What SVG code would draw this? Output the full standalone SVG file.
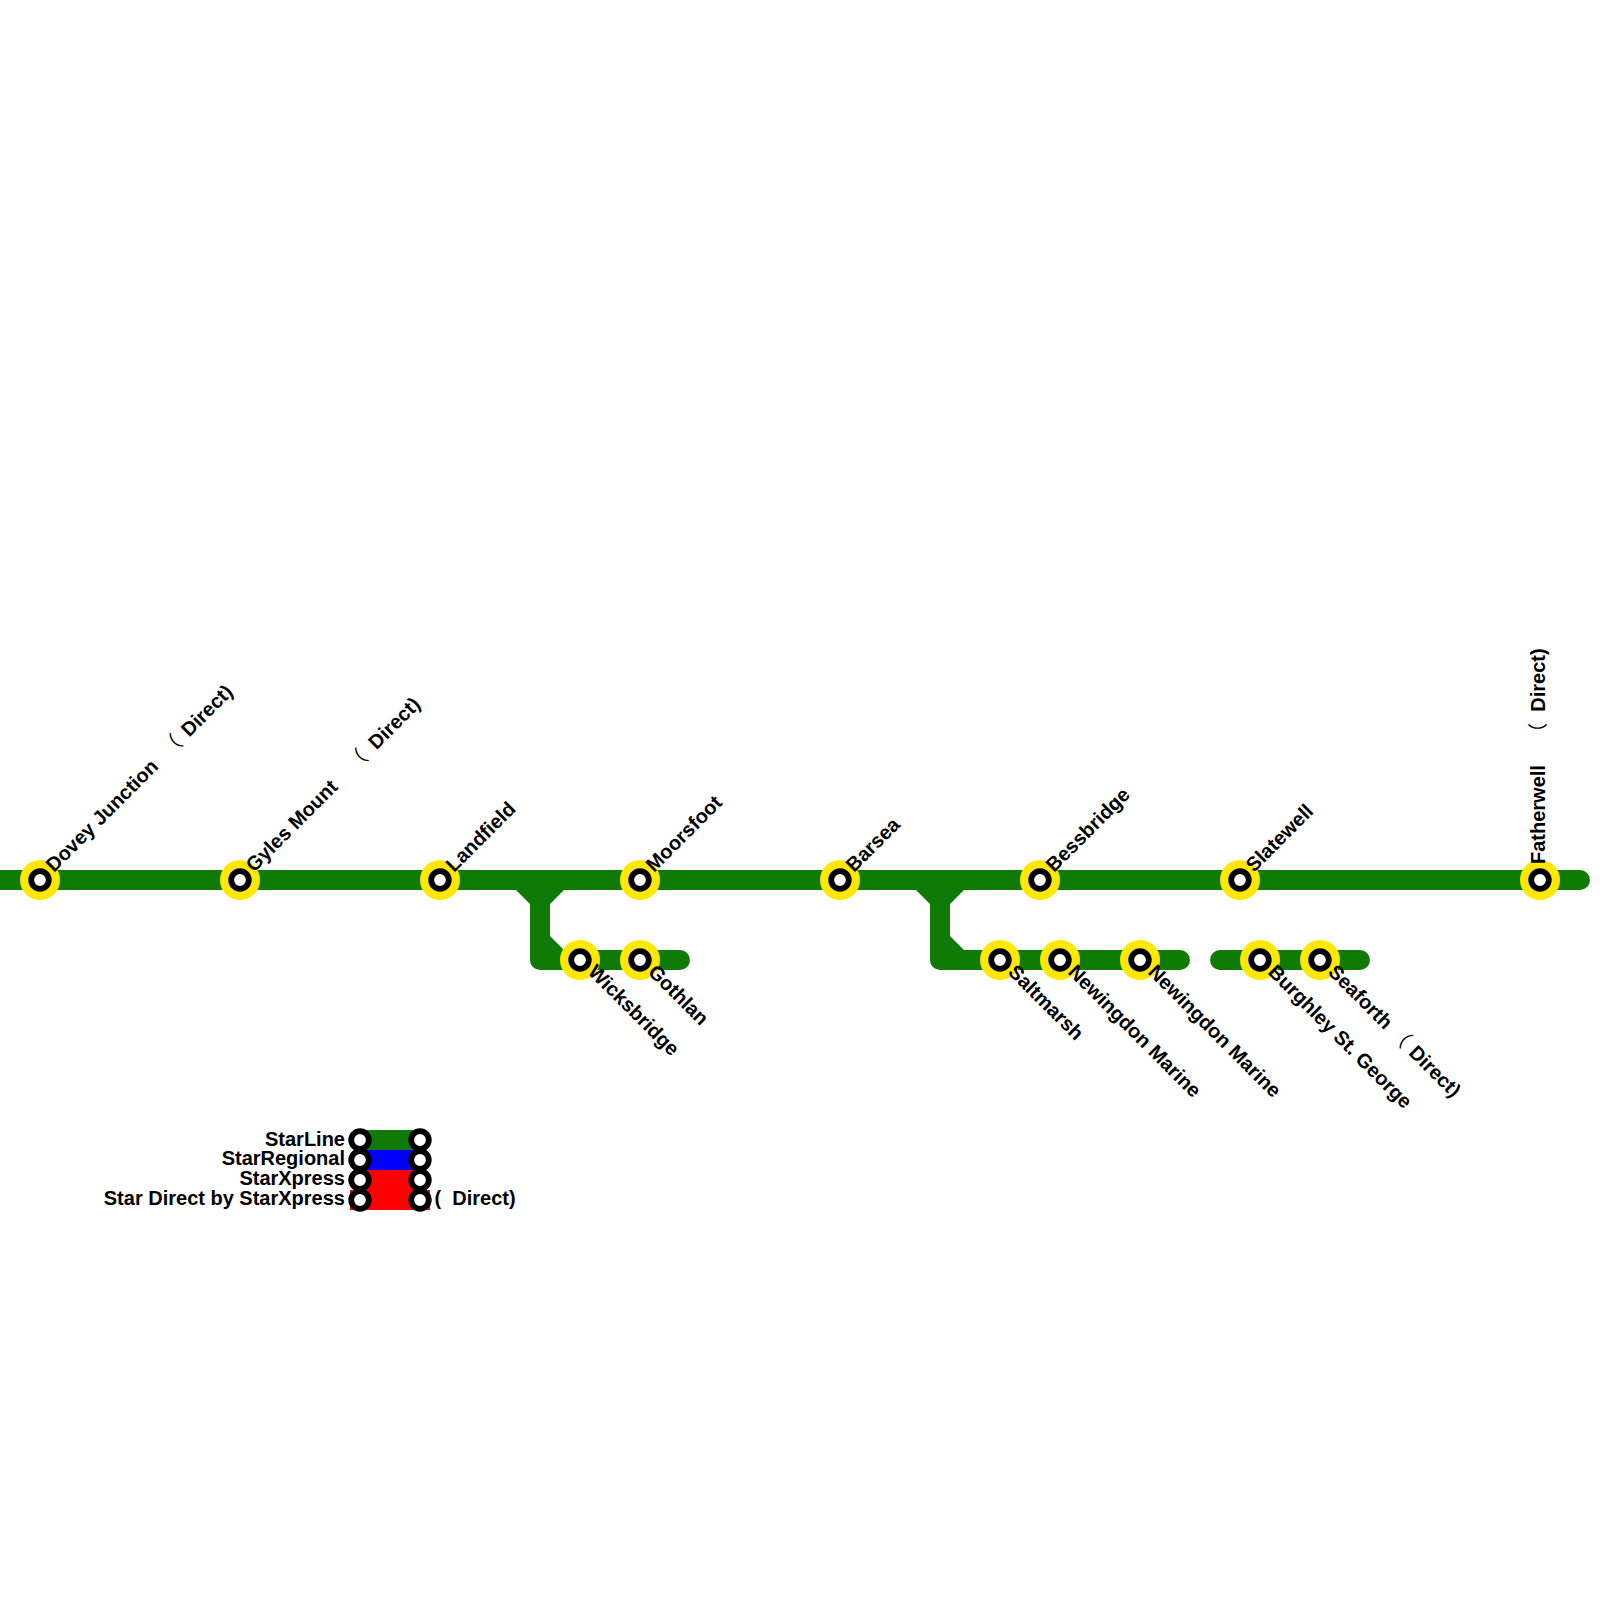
<svg xmlns="http://www.w3.org/2000/svg" width="1600" height="1600" viewBox="0 0 1600 1600">
<style>
.l{fill:none;stroke:#0f7a05;stroke-width:20;stroke-linecap:round;stroke-linejoin:round}
.f{fill:#0f7a05}
.o{fill:#ffe800}
.i{fill:#fff;stroke:#000;stroke-width:5.8}
text{font-family:"Liberation Sans","Noto Sans CJK SC",sans-serif;font-size:20px;font-weight:bold;fill:#000;white-space:pre}
.p{font-weight:normal}
</style>
<defs>
<g id="st"><circle r="20" class="o"/><circle r="8.8" class="i"/></g>
<circle id="ls" r="8.8" class="i"/>
</defs>
<g id="connectors">
<path class="l" d="M-20 880H1580"/>
<path class="l" d="M540 880V960H680"/>
<path class="l" d="M940 880V960H1180"/>
<path class="l" d="M1220 960H1360"/>
<path class="f" d="M516 890H564L550 904V936L564 950H530V904Z"/>
<path class="f" d="M916 890H964L950 904V936L964 950H930V904Z"/>
</g>
<g id="legend">
<rect x="360" y="1130" width="60" height="20" fill="#0f7a05"/>
<rect x="360" y="1150" width="60" height="20" fill="#00f"/>
<rect x="360" y="1170" width="60" height="40" fill="#f00"/>
<rect x="350" y="1190" width="80" height="20" fill="#f00"/>
<use href="#ls" x="360" y="1140"/><use href="#ls" x="420" y="1140"/>
<use href="#ls" x="360" y="1160"/><use href="#ls" x="420" y="1160"/>
<use href="#ls" x="360" y="1180"/><use href="#ls" x="420" y="1180"/>
<use href="#ls" x="360" y="1200"/><use href="#ls" x="420" y="1200"/>
<text x="345" y="1145.5" text-anchor="end">StarLine</text>
<text x="345" y="1165" text-anchor="end">StarRegional</text>
<text x="345" y="1185" text-anchor="end">StarXpress</text>
<text x="345" y="1205" text-anchor="end">Star Direct by StarXpress</text>
<text x="434.5" y="1205">(  Direct)</text>
</g>
<g id="st-dovey"><use href="#st" x="40" y="880"/><text transform="translate(54 873) rotate(-45)">Dovey Junction   <tspan class="p" dx="-3">（</tspan> <tspan dx="3">Direct)</tspan></text></g>
<g id="st-gyles"><use href="#st" x="240" y="880"/><text transform="translate(254 873) rotate(-45)">Gyles Mount    <tspan class="p">（</tspan>  Direct)</text></g>
<g id="st-landfield"><use href="#st" x="440" y="880"/><text transform="translate(454 873) rotate(-45)">Landfield</text></g>
<g id="st-moorsfoot"><use href="#st" x="640" y="880"/><text transform="translate(654 873) rotate(-45)">Moorsfoot</text></g>
<g id="st-barsea"><use href="#st" x="840" y="880"/><text transform="translate(854 873) rotate(-45)">Barsea</text></g>
<g id="st-bessbridge"><use href="#st" x="1040" y="880"/><text transform="translate(1054 873) rotate(-45)">Bessbridge</text></g>
<g id="st-slatewell"><use href="#st" x="1240" y="880"/><text transform="translate(1254 873) rotate(-45)">Slatewell</text></g>
<g id="st-fatherwell"><use href="#st" x="1540" y="880"/><text transform="translate(1545 864) rotate(-90)">Fatherwell    <tspan class="p">（</tspan>  Direct)</text></g>
<g id="st-wicksbridge"><use href="#st" x="580" y="960"/><text transform="translate(592 968) rotate(45)" dy="7">Wicksbridge</text></g>
<g id="st-gothlan"><use href="#st" x="640" y="960"/><text transform="translate(652 968) rotate(45)" dy="7">Gothlan</text></g>
<g id="st-saltmarsh"><use href="#st" x="1000" y="960"/><text transform="translate(1012 968) rotate(45)" dy="7">Saltmarsh</text></g>
<g id="st-newingdon1"><use href="#st" x="1060" y="960"/><text transform="translate(1072 968) rotate(45)" dy="7">Newingdon Marine</text></g>
<g id="st-newingdon2"><use href="#st" x="1140" y="960"/><text transform="translate(1152 968) rotate(45)" dy="7">Newingdon Marine</text></g>
<g id="st-burghley"><use href="#st" x="1260" y="960"/><text transform="translate(1272 968) rotate(45)" dy="7">Burghley St. George</text></g>
<g id="st-seaforth"><use href="#st" x="1320" y="960"/><text transform="translate(1332 968) rotate(45)" dy="7">Seaforth <tspan class="p">（</tspan> <tspan dx="2">Direct)</tspan></text></g>
</svg>
